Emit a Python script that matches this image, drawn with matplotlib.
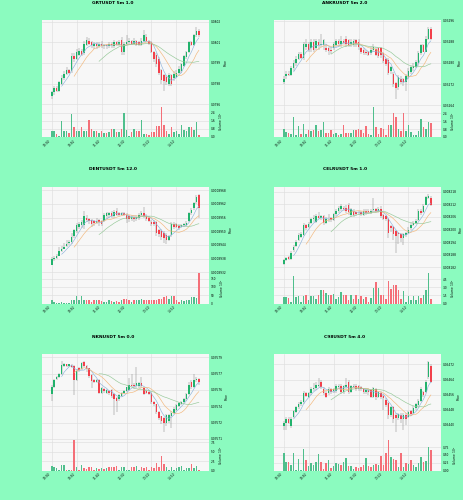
import matplotlib
matplotlib.use("Agg")
import matplotlib.pyplot as plt
import numpy as np
import pandas as pd
from matplotlib.ticker import FormatStrFormatter, MaxNLocator

# time labels shared by all panels (5m candles, a tick every 10 candles)
tick_pos = [0, 10, 20, 30, 40, 50]
tick_labels = ["10:00", "10:50", "11:40", "12:30", "13:20", "14:10"]

# GRTUSDT, prices in 1e-5 USDT, volume in 1e6
grt_open = [7966, 7969, 7972, 7970, 7975, 7979, 7982, 7985, 7984, 7995,
            7993, 7996, 7999, 7997, 8003, 8006, 8005, 8002, 8004, 8002,
            8004, 8002, 8003, 8002, 8004, 8002, 8005, 8003, 8007, 7998,
            8004, 8005, 8006, 8004, 8006, 8005, 8003, 8006, 8009, 8006,
            8005, 7998, 7996, 7993, 7985, 7981, 7980, 7975, 7981, 7979,
            7980, 7983, 7984, 7988, 7994, 7998, 8005, 8003, 8010, 8013]
grt_close = [7969, 7972, 7970, 7976, 7979, 7982, 7985, 7983, 7995, 7993,
             7998, 7999, 7996, 8004, 8007, 8004, 8003, 8004, 8002, 8004,
             8002, 8003, 8002, 8004, 8003, 8005, 8003, 8005, 7998, 8004,
             8005, 8006, 8004, 8006, 8003, 8003, 8006, 8010, 8006, 8004,
             7998, 7993, 7989, 7983, 7978, 7977, 7976, 7981, 7975, 7982,
             7983, 7986, 7989, 7995, 7998, 8005, 8003, 8010, 8013, 8010]
grt_high = [7970, 7973, 7973, 7977, 7981, 7984, 7987, 7986, 7997, 7997,
            8000, 8001, 8000, 8006, 8009, 8008, 8006, 8005, 8005, 8005,
            8006, 8004, 8004, 8005, 8005, 8007, 8006, 8007, 8009, 8005,
            8010, 8008, 8007, 8008, 8007, 8006, 8008, 8014, 8011, 8007,
            8006, 7999, 7997, 7994, 7986, 7982, 7981, 7983, 7982, 7984,
            7985, 7988, 7990, 7996, 7999, 8006, 8006, 8011, 8016, 8015]
grt_low = [7964, 7967, 7969, 7969, 7974, 7978, 7981, 7982, 7983, 7991,
           7992, 7995, 7995, 7996, 8002, 8003, 8001, 8000, 8000, 8001,
           8001, 8000, 8000, 8001, 8001, 8001, 8002, 8002, 7996, 7996,
           8003, 8004, 8003, 8003, 8002, 8002, 8002, 8005, 8005, 8003,
           7997, 7991, 7987, 7981, 7975, 7970, 7974, 7973, 7973, 7977,
           7979, 7982, 7983, 7987, 7993, 7997, 8002, 8002, 8009, 8009]
grt_vol = [0.6, 0.55, 0.3, 0.05, 1.6, 0.6, 0.6, 0.35, 2.3, 1.0,
           0.55, 0.6, 1.0, 0.55, 0.55, 1.7, 0.75, 0.6, 0.55, 0.35,
           0.55, 0.35, 0.4, 0.45, 0.75, 0.75, 0.45, 0.45, 0.75, 2.4,
           0.7, 0.1, 0.45, 0.75, 0.55, 0.55, 1.7, 0.3, 0.3, 0.2,
           0.45, 0.45, 1.1, 1.1, 3.0, 1.2, 0.55, 0.3, 1.0, 0.45,
           0.55, 0.25, 1.2, 0.7, 0.55, 0.95, 1.0, 0.65, 1.5, 0.2]

# ANKRUSDT, prices in 1e-5 USDT
ankr_open = [3273, 3275, 3276, 3275.5, 3278, 3280, 3281.5, 3283.5, 3282, 3286,
             3287, 3285.5, 3288, 3285.5, 3288, 3286.6, 3286.6, 3285.7, 3285.7, 3285,
             3285.7, 3286.8, 3288.3, 3287, 3288.3, 3289, 3288.6, 3287, 3286.8, 3288.6,
             3288, 3285.5, 3285, 3284.3, 3284, 3283.8, 3285, 3285.2, 3285.5, 3285.5,
             3283.8, 3281.5, 3281, 3277, 3275.8, 3272.3, 3271, 3274, 3274, 3273,
             3274.7, 3276.6, 3278, 3278.6, 3280, 3283.8, 3286.6, 3284.3, 3289, 3292.8]
ankr_close = [3274, 3276, 3275.5, 3278, 3280, 3281.5, 3283.5, 3282, 3287, 3287,
              3285, 3288, 3285, 3288.3, 3286.6, 3287, 3288.6, 3285, 3284.5, 3284.5,
              3287, 3288.3, 3287, 3288.3, 3287.5, 3287, 3286.6, 3288, 3288.3, 3287,
              3286, 3284.3, 3283.8, 3283.8, 3283.2, 3285, 3286, 3283.2, 3282.6, 3283,
              3280.7, 3279.6, 3276.4, 3278.6, 3272, 3270.7, 3274.6, 3273, 3273, 3275,
              3277, 3278.4, 3278.9, 3280.3, 3283.8, 3286.6, 3284.3, 3289, 3292.8, 3289]
ankr_high = [3275, 3277, 3277, 3279, 3281, 3282.5, 3284, 3284, 3288, 3289,
             3288, 3289, 3289, 3289, 3289, 3291, 3289, 3287, 3286, 3286,
             3288, 3289, 3289, 3290, 3289, 3290, 3289, 3289, 3289, 3289,
             3289, 3286, 3285.5, 3285, 3284.5, 3286, 3287, 3286, 3286, 3286,
             3284, 3282, 3282, 3279, 3276.5, 3273, 3275.5, 3275, 3274.5, 3276,
             3278, 3279, 3280, 3281, 3284.5, 3287, 3287, 3290, 3293.5, 3293.5]
ankr_low = [3272, 3274, 3275, 3275, 3277, 3279, 3281, 3281.5, 3281, 3285,
            3284, 3284, 3284, 3285, 3285, 3286, 3285, 3284, 3283, 3283.5,
            3285, 3286, 3286, 3286, 3287, 3286, 3286, 3286, 3286, 3286,
            3285, 3283.5, 3283, 3283, 3282.5, 3283, 3284, 3282.5, 3282, 3282,
            3280, 3279, 3275.5, 3276, 3271, 3266.5, 3270, 3272, 3271.5, 3269.5,
            3274, 3276, 3277, 3278, 3279, 3283, 3284, 3284, 3288.5, 3288.5]
ankr_vol = [0.85, 0.55, 0.45, 0.35, 2.0, 0.25, 1.1, 0.3, 1.35, 0.35,
            0.7, 0.6, 0.75, 1.2, 0.6, 0.7, 1.5, 0.45, 0.45, 0.7,
            0.35, 0.45, 0.2, 0.35, 1.2, 0.45, 0.45, 0.45, 0.75, 0.75,
            0.85, 0.75, 0.45, 1.1, 0.35, 0.2, 3.1, 1.0, 0.35, 0.95,
            0.85, 0.2, 1.2, 1.2, 2.4, 2.0, 0.85, 0.6, 2.4, 0.6,
            1.2, 0.55, 0.25, 0.25, 0.6, 1.8, 1.0, 0.85, 1.5, 1.4]

# DENTUSDT, prices in 1e-7 USDT
dent_open = [8935.3, 8937.7, 8938.4, 8939.3, 8941.5, 8942.3, 8943.4, 8944.7, 8945.1, 8947.8,
             8949.9, 8951.9, 8952.6, 8952.6, 8955.9, 8955.5, 8955, 8954.6, 8953.7, 8955,
             8954.6, 8954.6, 8956.6, 8957.3, 8958, 8956.6, 8959, 8958, 8957.3, 8958,
             8957.3, 8956.6, 8955.3, 8956.4, 8955.3, 8956, 8957.3, 8958.2, 8956.9, 8955.9,
             8954.2, 8954.2, 8954, 8950.5, 8950.2, 8949.2, 8948.3, 8946.1, 8948.5, 8953.2,
             8953, 8952.3, 8951.9, 8952.6, 8952.9, 8954.6, 8958, 8960, 8962.7, 8966]
dent_close = [8938, 8938.4, 8939.3, 8941.5, 8942.3, 8943, 8944.5, 8945.1, 8947.4, 8950.5,
              8952.6, 8953.2, 8954, 8956.6, 8955, 8954.6, 8953, 8953.7, 8954.6, 8954,
              8953.2, 8957.3, 8958, 8958, 8956.6, 8958.6, 8957.3, 8957.3, 8958, 8957.3,
              8955.3, 8955.5, 8956.4, 8955.3, 8956.3, 8957.3, 8958.2, 8956.6, 8955.3, 8954.6,
              8953.2, 8953.2, 8949.2, 8948.9, 8947.4, 8947.2, 8946.1, 8947.8, 8953.2, 8951.9,
              8951.9, 8951.2, 8952.6, 8953.2, 8953.7, 8958, 8959.3, 8962.3, 8965, 8960.4]
dent_high = [8938.5, 8939, 8940, 8943, 8943.5, 8945, 8946, 8946, 8949, 8951,
             8953.5, 8954, 8955, 8959, 8957, 8956, 8955.5, 8955, 8956, 8955.5,
             8955, 8958, 8958.5, 8958.5, 8959, 8959.5, 8960, 8958.5, 8958.5, 8958.5,
             8958, 8957, 8957, 8957, 8957, 8958, 8959, 8960.5, 8957.5, 8956.5,
             8955, 8955, 8954.5, 8951, 8951, 8950, 8949, 8948.5, 8954, 8954,
             8953.5, 8953, 8953, 8953.5, 8954.5, 8958.5, 8960, 8963, 8966, 8966.5]
dent_low = [8935, 8937, 8938, 8939, 8941, 8942, 8943, 8944, 8944.5, 8947,
            8949, 8951, 8951.5, 8951, 8954, 8953, 8952, 8952.5, 8953, 8952.5,
            8952.5, 8954, 8955.5, 8956, 8956, 8956, 8956.5, 8956.5, 8956.5, 8956.5,
            8953.5, 8954, 8954.5, 8954, 8954.5, 8955, 8956.5, 8956, 8954.5, 8954,
            8952.5, 8952.5, 8948, 8947.5, 8946, 8945, 8944.5, 8945.5, 8947.5, 8951,
            8951.5, 8950.5, 8951.5, 8952, 8952.5, 8954, 8957, 8959.5, 8962, 8956]
dent_vol = [20, 10, 4, 4, 10, 4, 4, 4, 24, 20,
            44, 24, 44, 24, 20, 20, 10, 20, 24, 24,
            16, 10, 10, 20, 16, 10, 16, 10, 20, 30,
            30, 20, 10, 20, 24, 24, 30, 24, 20, 20,
            24, 20, 24, 30, 30, 40, 44, 30, 44, 44,
            20, 10, 20, 16, 24, 20, 40, 40, 36, 184]

# CELRUSDT, prices in 1e-6 USDT
celr_open = [8183.4, 8185.3, 8186.8, 8186, 8190.1, 8192.2, 8195.1, 8196.6, 8197.5, 8201.9,
             8201, 8203, 8204.9, 8203.7, 8206.3, 8205.4, 8206.3, 8203, 8204.8, 8205.4,
             8204.4, 8207.4, 8208.8, 8209.6, 8210, 8210.3, 8211.8, 8207, 8208.8, 8208.1,
             8208.1, 8208.4, 8207, 8208.8, 8208.8, 8207.8, 8209.3, 8209.6, 8208.8, 8209.9,
             8206.9, 8206.6, 8205.1, 8201.5, 8201, 8199.3, 8198.5, 8197.8, 8196, 8197.5,
             8198.5, 8200.7, 8201.9, 8203, 8204.4, 8208.8, 8208.4, 8211.8, 8215.1, 8215]
celr_close = [8185.3, 8186.3, 8186, 8189, 8191.6, 8194.1, 8197.5, 8198.1, 8201.9, 8200.7,
              8202.5, 8204.9, 8205.4, 8206.3, 8205.4, 8206.3, 8203, 8205.1, 8205.1, 8204.4,
              8207.4, 8208.8, 8210.3, 8211, 8209.6, 8208.8, 8208.4, 8209.6, 8207, 8207.4,
              8208.4, 8207.4, 8208.8, 8207.8, 8208.1, 8208.8, 8209.9, 8208.8, 8209.9, 8206.6,
              8205.1, 8205.1, 8198.5, 8200.7, 8197.8, 8197.1, 8197.8, 8196, 8197.8, 8198.5,
              8200, 8202.2, 8203, 8204, 8208.8, 8207.8, 8211, 8215.4, 8216, 8211.8]
celr_high = [8186, 8187, 8187.5, 8190, 8192.5, 8195, 8198.5, 8199, 8203, 8202.5,
             8203.5, 8205.5, 8207, 8207.5, 8208.5, 8207, 8207, 8206, 8207.5, 8206,
             8208, 8209.5, 8211, 8212, 8211, 8211.5, 8212.5, 8210, 8209.5, 8208.5,
             8209, 8209, 8209.5, 8209.5, 8209.5, 8209.5, 8215, 8210, 8210.5, 8211,
             8207.5, 8207, 8205.5, 8202, 8201.5, 8200, 8199, 8198.5, 8198.5, 8199,
             8201, 8203, 8204, 8205, 8209.5, 8209.5, 8212, 8216, 8217, 8216]
celr_low = [8183, 8185, 8185.5, 8185.5, 8189.5, 8191.5, 8194.5, 8196, 8197, 8200,
            8200.5, 8202.5, 8203.5, 8203, 8205, 8204.5, 8202, 8202.5, 8203.5, 8203.5,
            8204, 8206.5, 8208, 8209, 8209, 8208, 8207, 8206, 8206, 8206.5,
            8207, 8206.5, 8206.5, 8207, 8207.5, 8207.5, 8209, 8208, 8208, 8205.5,
            8204.5, 8204, 8196, 8199, 8195, 8189, 8193, 8194, 8192.5, 8196.5,
            8198, 8200, 8201.5, 8202.5, 8204, 8207, 8208, 8211.5, 8214.5, 8211]
celr_vol = [1.2, 1.2, 1.1, 0.3, 5.2, 1.2, 1.35, 0.3, 1.35, 1.5,
            0.6, 1.35, 1.35, 0.9, 1.5, 2.45, 2.45, 2.0, 1.65, 1.5,
            1.8, 0.75, 1.2, 2.1, 1.5, 1.65, 0.6, 1.5, 0.9, 1.65,
            0.9, 1.35, 0.75, 1.2, 0.3, 1.1, 2.9, 4.0, 2.9, 1.5,
            1.5, 0.75, 4.2, 2.75, 3.4, 3.4, 2.45, 0.9, 2.3, 0.3,
            1.35, 0.6, 1.35, 0.6, 1.35, 1.1, 1.5, 2.6, 5.65, 0.75]

# NKNUSDT, prices in 1e-6 USDT
nkn_open = [35751.6, 35758, 35765.5, 35767, 35770, 35777, 35778.5, 35777, 35777.7, 35777,
            35764, 35774.8, 35774, 35780.6, 35777, 35774.8, 35769, 35764, 35762.6, 35764,
            35752.4, 35756.2, 35752.4, 35754.5, 35755.3, 35751, 35748, 35746.6, 35749.5, 35752.4,
            35754.5, 35755.3, 35760, 35760, 35758.6, 35758.6, 35761, 35757, 35754, 35753,
            35752.4, 35743.7, 35741.7, 35735, 35730.7, 35729, 35725, 35726.3, 35731.3, 35734,
            35736.5, 35740, 35742, 35743.7, 35746.6, 35751, 35762.6, 35758, 35764, 35765.5]
nkn_close = [35758, 35764, 35767, 35770, 35778, 35778.5, 35777, 35778.5, 35776.5, 35764,
             35772.7, 35773.6, 35779.4, 35777, 35774, 35767.8, 35763, 35762.6, 35764, 35752.4,
             35757, 35754, 35755.3, 35752.4, 35749.5, 35746.6, 35745, 35750, 35752.4, 35754.5,
             35757.4, 35760, 35758.6, 35758.6, 35761, 35761, 35758.6, 35751.6, 35752.4, 35751.6,
             35743.7, 35741.7, 35735, 35729, 35726.3, 35725, 35732, 35732, 35734, 35737.6,
             35741, 35742.6, 35744, 35746.6, 35751, 35760, 35758, 35764, 35765.5, 35762]
nkn_high = [35760, 35765, 35768, 35771, 35782, 35780, 35779, 35779, 35779, 35778,
            35774, 35776, 35781, 35782, 35778, 35775.5, 35770, 35765, 35765, 35765,
            35758, 35757, 35756, 35755, 35756, 35752, 35749, 35751, 35753, 35755,
            35758, 35766, 35770, 35761, 35776, 35762, 35767, 35758, 35756, 35755,
            35753, 35745, 35742, 35736, 35731, 35730, 35733, 35733, 35736, 35739,
            35742, 35743.5, 35745, 35748, 35752, 35762, 35764, 35770, 35767, 35766]
nkn_low = [35745, 35757, 35764, 35766, 35769, 35776, 35776, 35776, 35775, 35750,
           35763, 35772, 35773, 35776, 35772, 35766, 35757, 35761, 35761, 35751,
           35751, 35752.5, 35751, 35750, 35748, 35732, 35735, 35745, 35748.5, 35751.5,
           35753, 35754, 35758, 35756, 35757, 35757, 35757, 35750, 35751, 35750,
           35742, 35740, 35733, 35727, 35724, 35716, 35722, 35725, 35720, 35733,
           35735.5, 35739, 35741, 35743, 35745, 35750, 35756, 35757, 35762, 35760]
nkn_vol = [1.3, 1.05, 0.7, 0.2, 1.5, 1.5, 0.2, 0.2, 0.2, 8.0,
           1.05, 0.2, 1.5, 0.7, 0.45, 0.85, 1.05, 0.2, 0.6, 0.45,
           0.6, 0.45, 0.6, 0.85, 0.85, 1.05, 1.3, 0.2, 1.05, 1.05,
           0.2, 0.2, 0.85, 0.85, 1.3, 0.2, 0.85, 0.6, 0.85, 0.2,
           0.85, 0.6, 2.0, 0.85, 3.9, 1.75, 1.05, 0.2, 0.85, 0.2,
           0.6, 1.05, 1.2, 0.2, 0.6, 0.6, 1.75, 0.7, 1.2, 0.2]

# C98USDT, prices in 1e-5 USDT
c98_open = [5439.2, 5441.1, 5443.2, 5439.2, 5444, 5446.6, 5449.2, 5450.8, 5451.9, 5456.9,
            5454.5, 5456.9, 5459, 5459.3, 5460.5, 5462.9, 5459, 5457, 5456.6, 5459,
            5457.7, 5457.7, 5459.8, 5460.8, 5457.4, 5459.8, 5462.9, 5457.4, 5460.2, 5460.8,
            5460.5, 5459.8, 5459, 5457.4, 5458.7, 5458.2, 5455, 5459, 5455, 5457.1,
            5455, 5453.4, 5451.4, 5445, 5449.2, 5445, 5443.5, 5445, 5443.2, 5445,
            5444, 5447.1, 5446.3, 5448.7, 5450.3, 5452.6, 5457.4, 5457.4, 5465.3, 5471.3]
c98_close = [5441.1, 5443.2, 5441.1, 5443.2, 5447.1, 5449.2, 5451, 5451.9, 5456.9, 5455.5,
             5456.9, 5459, 5459.3, 5461.3, 5461.3, 5459.8, 5456.6, 5455, 5459, 5457.4,
             5459, 5460.8, 5460.8, 5457.4, 5460.5, 5461.3, 5457.4, 5460.5, 5460.8, 5459,
             5459, 5459, 5457.4, 5458.7, 5457.4, 5455, 5459.3, 5455, 5457.4, 5455,
             5454.2, 5450.3, 5445, 5449.2, 5443.2, 5443.5, 5445.6, 5443.2, 5445, 5443.2,
             5446.6, 5445.6, 5448.7, 5450.8, 5452.6, 5459, 5455.8, 5462.9, 5473.2, 5462.9]
c98_high = [5442, 5444, 5444, 5444, 5448, 5450, 5452, 5453, 5458, 5457.5,
            5457.5, 5460, 5462, 5462.5, 5465, 5463.5, 5460, 5458, 5460, 5459.5,
            5459.5, 5461.5, 5461.5, 5461.5, 5461, 5465, 5464, 5461, 5461.5, 5461.5,
            5461, 5460.5, 5459.5, 5459.5, 5459.5, 5459, 5460, 5459.5, 5458, 5458,
            5456, 5454, 5452, 5450, 5450, 5446, 5446.5, 5446, 5446, 5446,
            5447.5, 5448, 5450, 5451.5, 5453.5, 5460, 5458, 5464, 5474, 5472]
c98_low = [5437.5, 5437, 5440.5, 5438.5, 5443.5, 5446, 5448.5, 5450, 5451, 5455,
           5454, 5456, 5458, 5458.5, 5460, 5459, 5456, 5454, 5456, 5456.5,
           5457, 5457, 5459, 5456.5, 5456.5, 5459, 5456.5, 5457, 5459.5, 5458,
           5458, 5458, 5456.5, 5456.5, 5456, 5454, 5454, 5453, 5454, 5453.5,
           5448, 5449.5, 5443, 5444, 5441, 5436, 5442.5, 5441, 5437, 5440,
           5443.5, 5444.5, 5445.5, 5448, 5449.5, 5452, 5455, 5457, 5464.5, 5462]
c98_vol = [0.55, 0.28, 0.28, 0.18, 0.56, 0.02, 0.37, 0.02, 0.7, 0.32,
           0.13, 0.23, 0.18, 0.28, 0.53, 0.28, 0.05, 0.23, 0.32, 0.07,
           0.13, 0.23, 0.21, 0.16, 0.28, 0.4, 0.13, 0.13, 0.05, 0.1,
           0.07, 0.1, 0.19, 0.4, 0.13, 0.1, 0.18, 0.21, 0.16, 0.47,
           0.16, 0.55, 0.97, 0.44, 0.37, 0.32, 0.1, 0.55, 0.1, 0.23,
           0.21, 0.34, 0.19, 0.1, 0.23, 0.42, 0.26, 0.3, 0.76, 0.65]

# title, OHLCV, price unit, tick format, max number of price ticks
panels = [
    ("GRTUSDT 5m 1.0", grt_open, grt_close, grt_high, grt_low, grt_vol, 1e-5, "%.4f", 5),
    ("ANKRUSDT 5m 2.0", ankr_open, ankr_close, ankr_high, ankr_low, ankr_vol, 1e-5, "%.5f", 5),
    ("DENTUSDT 5m 12.0", dent_open, dent_close, dent_high, dent_low, dent_vol, 1e-7, "%.7f", 7),
    ("CELRUSDT 5m 1.0", celr_open, celr_close, celr_high, celr_low, celr_vol, 1e-6, "%.6f", 7),
    ("NKNUSDT 5m 0.0", nkn_open, nkn_close, nkn_high, nkn_low, nkn_vol, 1e-6, "%.5f", 7),
    ("C98USDT 5m 4.0", c98_open, c98_close, c98_high, c98_low, c98_vol, 1e-5, "%.5f", 7),
]

UP, DOWN = "#22b26c", "#f2404b"
UP_VOL, DOWN_VOL = "#4fbf8c", "#f46f78"
MAV = [(5, "#8eb4dc"), (10, "#f3b77a"), (20, "#94c897")]
BG = "#8bfbbf"
FACE = "#f7f7f7"
GRID = "#dedede"
FS = 2.1


def style_axis(ax):
    ax.set_facecolor(FACE)
    ax.grid(True, color=GRID, lw=0.45)
    ax.set_axisbelow(True)
    for s in ax.spines.values():
        s.set_visible(False)
    ax.yaxis.tick_right()
    ax.yaxis.set_label_position("right")
    ax.tick_params(labelsize=FS, length=0, pad=1.2)


def draw_panel(fig, left, top, spec):
    title, o, c, h, l, v, unit, fmt, nbins = spec
    o = np.array(o) * unit
    c = np.array(c) * unit
    h = np.array(h) * unit
    l = np.array(l) * unit
    v = np.array(v)
    x = np.arange(len(c))
    up = c >= o

    w, ph, vh = 0.36, 0.172, 0.062
    ax = fig.add_axes([left, top - ph, w, ph])
    axv = fig.add_axes([left, top - ph - vh, w, vh], sharex=ax)
    style_axis(ax)
    style_axis(axv)

    ax.vlines(x, l, h, color="#6f6f6f", lw=0.3, zorder=2)
    body = np.maximum(np.abs(c - o), (h.max() - l.min()) * 0.004)
    ax.bar(x, body, bottom=np.minimum(o, c), width=0.62,
           color=np.where(up, UP, DOWN), zorder=3)
    close = pd.Series(c)
    for n, col in MAV:
        ax.plot(x, close.rolling(n).mean(), color=col, lw=0.45, zorder=4)
    ax.set_xlim(-4, len(c) + 3)
    ax.margins(y=0.1)
    ax.yaxis.set_major_formatter(FormatStrFormatter(fmt))
    ax.yaxis.set_major_locator(MaxNLocator(nbins))
    ax.set_ylabel("Price", fontsize=FS, labelpad=2)
    plt.setp(ax.get_xticklabels(), visible=False)

    axv.bar(x, v, width=0.62, color=np.where(up, UP_VOL, DOWN_VOL), zorder=3)
    axv.set_ylim(0, v.max() * 1.02)
    axv.yaxis.set_major_locator(MaxNLocator(4))
    axv.set_ylabel("Volume  $10^{6}$", fontsize=FS, labelpad=2)
    axv.set_xticks(tick_pos)
    axv.set_xticklabels(tick_labels, rotation=45, ha="right", fontsize=FS)

    fig.text(left + 0.153, top + 0.034, title, fontsize=3.2,
             fontweight="bold", ha="center", va="center")


fig = plt.figure(figsize=(4.64, 5.0), dpi=100, facecolor=BG)
lefts = [0.09, 0.59]
tops = [0.96, 0.627, 0.293]
for k, spec in enumerate(panels):
    draw_panel(fig, lefts[k % 2], tops[k // 2], spec)

fig.savefig("out.png", dpi=100, facecolor=BG)
